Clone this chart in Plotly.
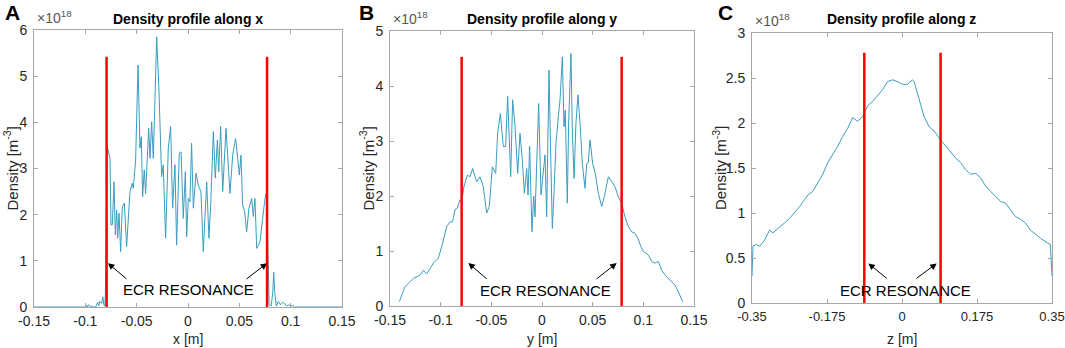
import plotly.graph_objects as go

# ---------------- data (density in units of 1e18 m^-3) ----------------
xA = [-0.15, -0.12, -0.1, -0.099, -0.098, -0.097, -0.095, -0.094, -0.092, -0.09, -0.088, -0.087,
      -0.086, -0.084, -0.083, -0.082, -0.081, -0.0805, -0.0795,
      -0.0786, -0.0760, -0.0750, -0.0737, -0.0721, -0.0708, -0.0695, -0.0685, -0.0672, -0.0656,
      -0.0640, -0.0620, -0.0598, -0.0565, -0.0543, -0.0533, -0.0510, -0.0487, -0.0468, -0.0455,
      -0.0442, -0.0426, -0.0413, -0.0383, -0.0370, -0.0354, -0.0338, -0.0305, -0.0283, -0.0257,
      -0.0241, -0.0218, -0.0192, -0.0169, -0.0150, -0.0127, -0.0111, -0.0085, -0.0068, -0.0046,
      -0.0026, -0.0013, 0.0003, 0.0019, 0.0035, 0.0052, 0.0078, 0.0100, 0.0126, 0.0149, 0.0182,
      0.0204, 0.0221, 0.0247, 0.0266, 0.0286, 0.0299, 0.0318, 0.0338, 0.0370, 0.0390, 0.0409,
      0.0435, 0.0464, 0.0484, 0.0500, 0.0516, 0.0532, 0.0552, 0.0571, 0.0594, 0.0620, 0.0636,
      0.0652, 0.0669, 0.0701, 0.0727, 0.0750, 0.0766,
      0.0775, 0.0790, 0.0810, 0.0825, 0.0835, 0.0845, 0.0860, 0.0880, 0.0900, 0.0920, 0.0940,
      0.0960, 0.0980, 0.1000, 0.1020, 0.1040, 0.1060, 0.12, 0.15]
yA = [0, 0, 0, 0.04, 0.0, 0.05, 0.0, 0.02, 0.0, 0.0, 0.1, 0.03,
      0.12, 0.08, 0.22, 0.05, 0.02, 0.25, 1.5,
      3.47, 3.22, 1.78, 1.78, 2.71, 1.56, 2.10, 1.49, 2.03, 1.20,
      2.17, 2.25, 1.31, 2.50, 2.68, 2.57, 3.18, 5.24, 3.44, 3.69,
      2.39, 2.97, 2.46, 3.87, 3.22, 4.01, 3.22, 5.85, 4.70, 2.82,
      3.08, 1.49, 3.44, 3.91, 2.14, 3.08, 1.34, 3.33, 3.36, 1.92,
      2.93, 1.52, 2.35, 2.28, 3.55, 2.14, 2.90, 2.64, 2.50, 1.20, 2.71,
      1.49, 2.21, 3.80, 2.79, 3.62, 2.93, 3.91, 2.50, 3.87, 3.00, 2.46,
      3.29, 3.65, 3.22, 2.86, 3.29, 2.21, 2.06, 1.63, 2.14, 2.35, 1.96,
      2.35, 1.27, 1.41, 1.92, 2.35, 2.50,
      1.2, 0.05, 0.02, 0.3, 0.75, 0.3, 0.02, 0.12, 0.05, 0.1, 0.08,
      0.02, 0.05, 0.01, 0.04, 0.0, 0.0, 0, 0]

xB = [-0.1408, -0.1352, -0.127, -0.1204, -0.1171, -0.1138, -0.1072, -0.1023, -0.099, -0.0941,
      -0.0908, -0.0882, -0.0859, -0.0836, -0.081,
      -0.0793, -0.0770, -0.0737, -0.0711, -0.0684, -0.0645, -0.0612, -0.0579, -0.0546, -0.0520,
      -0.0490, -0.0457, -0.0438, -0.0411, -0.0382, -0.0359, -0.0339, -0.0309, -0.0290, -0.0267,
      -0.0240, -0.0217, -0.0194, -0.0174, -0.0151, -0.0138, -0.0122, -0.0099, -0.0082, -0.0069,
      -0.0053, -0.0033, -0.0010, 0.0013, 0.0030, 0.0046, 0.0069, 0.0082, 0.0102, 0.0118, 0.0138,
      0.0161, 0.0178, 0.0201, 0.0217, 0.0230, 0.0250, 0.0263, 0.0286, 0.0299, 0.0316, 0.0335,
      0.0355, 0.0375, 0.0398, 0.0424, 0.0441, 0.0457, 0.0474, 0.0500, 0.0526, 0.0556, 0.0589,
      0.0615, 0.0655, 0.0688, 0.0720, 0.0753, 0.0786, 0.0819, 0.0852, 0.0885, 0.0918, 0.0950,
      0.0975, 0.1000, 0.1049, 0.1083, 0.1115, 0.1148, 0.1181, 0.1230, 0.1280, 0.1313, 0.1345,
      0.1378, 0.1388]
yB = [0.08, 0.35, 0.50, 0.56, 0.65, 0.58, 0.78, 0.87, 1.08, 1.44,
      1.53, 1.53, 1.75, 1.78, 1.93,
      1.90, 2.17, 2.38, 2.35, 2.50, 2.26, 2.35, 2.17, 1.69, 1.81,
      2.53, 2.41, 3.14, 3.50, 2.90, 2.90, 3.81, 2.35, 3.75, 3.29,
      2.41, 3.14, 2.65, 2.05, 2.50, 2.02, 2.90, 1.35, 2.00, 1.62,
      2.47, 3.68, 2.02, 2.41, 2.75, 1.62, 4.29, 3.08, 1.41, 2.05, 2.96,
      3.44, 3.75, 4.53, 3.26, 3.56, 1.87, 3.33, 4.59, 3.20, 2.32, 3.33,
      3.84, 3.33, 2.59, 2.14, 2.59, 2.61, 3.02, 2.59, 2.41, 2.05, 1.81,
      1.99, 2.35, 2.26, 2.17, 1.99, 1.87, 1.62, 1.44, 1.35, 1.32, 1.22,
      1.08, 0.99, 0.93, 0.81, 0.78, 0.81, 0.65, 0.53, 0.44, 0.38, 0.26,
      0.14, 0.08]

zC = [-0.35, -0.3477, -0.3399, -0.3322, -0.3205, -0.3089, -0.3012, -0.2934, -0.2857, -0.2740,
      -0.2624, -0.2508, -0.2392, -0.2275, -0.2198, -0.2082, -0.1965, -0.1849, -0.1733, -0.1616,
      -0.1500, -0.1384, -0.1267, -0.1151, -0.1035, -0.0919, -0.0802, -0.0686, -0.0570, -0.0453,
      -0.0337, -0.0221, -0.0104, 0.0012, 0.0128, 0.0245, 0.0283, 0.0400, 0.0516, 0.0632, 0.0749,
      0.0904, 0.1020, 0.1136, 0.1253, 0.1369, 0.1485, 0.1601, 0.1718, 0.1834, 0.1950, 0.2066,
      0.2183, 0.2299, 0.2415, 0.2531, 0.2648, 0.2764, 0.2880, 0.2996, 0.3113, 0.3229, 0.3385,
      0.3462, 0.3500]
yC = [0.30, 0.63, 0.65, 0.63, 0.70, 0.81, 0.78, 0.81, 0.85, 0.89,
      0.94, 1.00, 1.07, 1.15, 1.20, 1.24, 1.33, 1.43, 1.56, 1.65,
      1.74, 1.85, 1.94, 2.06, 2.02, 2.07, 2.19, 2.24, 2.30, 2.37,
      2.46, 2.48, 2.46, 2.43, 2.43, 2.48, 2.46, 2.26, 2.07, 1.96, 1.91,
      1.81, 1.74, 1.67, 1.61, 1.56, 1.48, 1.43, 1.44, 1.39, 1.30, 1.24,
      1.19, 1.13, 1.11, 1.04, 0.96, 0.93, 0.89, 0.81, 0.76, 0.72, 0.67,
      0.65, 0.30]

# ECR resonance positions and marker heights per panel
ecrA = [-0.0793, 0.0770]
ecrB = [-0.0793, 0.0786]
ecrC = [-0.088, 0.090]
ecr_top = [5.42, 4.53, 2.78]

xticksAB = [-0.15, -0.1, -0.05, 0, 0.05, 0.1, 0.15]
xticklabelsAB = ["-0.15", "-0.1", "-0.05", "0", "0.05", "0.1", "0.15"]
xticksC = [-0.35, -0.175, 0, 0.175, 0.35]
xticklabelsC = ["-0.35", "-0.175", "0", "0.175", "0.35"]
yticksA = [0, 1, 2, 3, 4, 5, 6]
yticksB = [0, 1, 2, 3, 4, 5]
yticksC = [0, 0.5, 1, 1.5, 2, 2.5, 3]
yticklabelsC = ["0", "0.5", "1", "1.5", "2", "2.5", "3"]

titles = ["Density profile along x", "Density profile along y", "Density profile along z"]
xtitles = ["x [m]", "y [m]", "z [m]"]
panel_letters = ["A", "B", "C"]

# ---------------- figure ----------------
W, H = 1065, 348
LINE = "#3a9cc0"
RED = "#ff0000"
AXC = "#a6a6a6"
TXT = "#262626"
FONT = "Liberation Sans, Arial, sans-serif"

# pixel boxes of each axes: (left, right, top, bottom)
boxes = [(34, 342, 30, 307), (390, 694, 31, 306), (752, 1052, 33, 303)]
xtick_sizes = [14, 14, 13]

fig = go.Figure()

datasets = [(xA, yA, ecrA), (xB, yB, ecrB), (zC, yC, ecrC)]
for i, (xs, ys, ecr) in enumerate(datasets):
    ax = "" if i == 0 else str(i + 1)
    fig.add_trace(go.Scatter(x=xs, y=ys, mode="lines", line=dict(color=LINE, width=1),
                             xaxis="x" + ax, yaxis="y" + ax, showlegend=False, hoverinfo="skip"))
    for xe in ecr:
        fig.add_trace(go.Scatter(x=[xe, xe], y=[0, ecr_top[i]], mode="lines",
                                 line=dict(color=RED, width=2.5),
                                 xaxis="x" + ax, yaxis="y" + ax, showlegend=False, hoverinfo="skip"))

xranges = [[-0.15, 0.15], [-0.15, 0.15], [-0.35, 0.35]]
yranges = [[0, 6], [0, 5], [0, 3]]
xt = [(xticksAB, xticklabelsAB), (xticksAB, xticklabelsAB), (xticksC, xticklabelsC)]
yt = [(yticksA, [str(v) for v in yticksA]), (yticksB, [str(v) for v in yticksB]), (yticksC, yticklabelsC)]

layout = dict(width=W, height=H, margin=dict(l=0, r=0, t=0, b=0),
              paper_bgcolor="white", plot_bgcolor="white",
              font=dict(family=FONT, color=TXT, size=13), showlegend=False)

annotations = []
for i, (l, r, t, b) in enumerate(boxes):
    ax = "" if i == 0 else str(i + 1)
    xdom = [l / W, r / W]
    ydom = [(H - b) / H, (H - t) / H]
    common = dict(showline=True, linecolor=AXC, linewidth=1, mirror="ticks", ticks="inside",
                  ticklen=4, tickcolor=AXC, showgrid=False, zeroline=False, automargin=False)
    layout["xaxis" + ax] = dict(domain=xdom, range=xranges[i], tickmode="array",
                                tickvals=xt[i][0], ticktext=xt[i][1], anchor="y" + ax,
                                ticklabelstandoff=1,
                                tickfont=dict(size=xtick_sizes[i], color=TXT, family=FONT),
                                **common)
    layout["yaxis" + ax] = dict(domain=ydom, range=yranges[i], tickmode="array",
                                tickvals=yt[i][0], ticktext=yt[i][1], anchor="x" + ax,
                                ticklabelstandoff=3,
                                tickfont=dict(size=14, color=TXT, family=FONT), **common)
    cx = (l + r) / 2 / W
    # title
    annotations.append(dict(text="<b>" + titles[i] + "</b>", x=cx, y=1 - 19 / H, xref="paper",
                            yref="paper", showarrow=False, font=dict(size=14, color="black"),
                            xanchor="center", yanchor="middle"))
    # x title
    annotations.append(dict(text=xtitles[i], x=cx, y=1 - 339 / H, xref="paper", yref="paper",
                            showarrow=False, font=dict(size=14, color=TXT),
                            xanchor="center", yanchor="middle"))
    # y title
    ylab_x = [11, 367, 719][i]
    annotations.append(dict(text="Density [m<sup>-3</sup>]", x=ylab_x / W,
                            y=1 - ((t + b) / 2) / H, xref="paper", yref="paper",
                            showarrow=False, textangle=-90, font=dict(size=15, color=TXT),
                            xanchor="center", yanchor="middle"))
    # exponent
    annotations.append(dict(text="\u00d710<sup>18</sup>", x=(l + 1) / W, y=1 - (t - 13) / H,
                            xref="paper", yref="paper", showarrow=False,
                            font=dict(size=14, color="#555555"), xanchor="left", yanchor="middle"))
    # panel letter
    lx = [3, 357, 716][i]
    annotations.append(dict(text="<b>" + panel_letters[i] + "</b>", x=lx / W, y=1 - 13 / H,
                            xref="paper", yref="paper", showarrow=False,
                            font=dict(size=21, color="black"), xanchor="left", yanchor="middle"))

# ECR RESONANCE labels and arrows (data coordinates of each panel)
ecr_text = [(0.0, 0.37), (0.003, 0.29), (0.007, 0.14)]
ecr_arrows = [
    [(-0.0584, 0.58, -0.078, 0.95), (0.0555, 0.58, 0.077, 0.95)],
    [(-0.053, 0.47, -0.0727, 0.78), (0.0523, 0.47, 0.0737, 0.78)],
    [(-0.032, 0.26, -0.0786, 0.44), (0.030, 0.26, 0.081, 0.44)],
]
for i in range(3):
    ax = "" if i == 0 else str(i + 1)
    tx, ty = ecr_text[i]
    annotations.append(dict(text="ECR RESONANCE", x=tx, y=ty, xref="x" + ax, yref="y" + ax,
                            showarrow=False, font=dict(size=15, color="black"),
                            xanchor="center", yanchor="middle"))
    for (x0, y0, x1, y1) in ecr_arrows[i]:
        annotations.append(dict(text="", x=x1, y=y1, ax=x0, ay=y0, xref="x" + ax, yref="y" + ax,
                                axref="x" + ax, ayref="y" + ax, showarrow=True, arrowhead=2,
                                arrowsize=1.3, arrowwidth=1, arrowcolor="black"))

layout["annotations"] = annotations
fig.update_layout(**layout)
fig.write_html("out.html", config={"displayModeBar": False},
               post_script="document.body.style.margin='0';document.body.style.overflow='hidden';")
